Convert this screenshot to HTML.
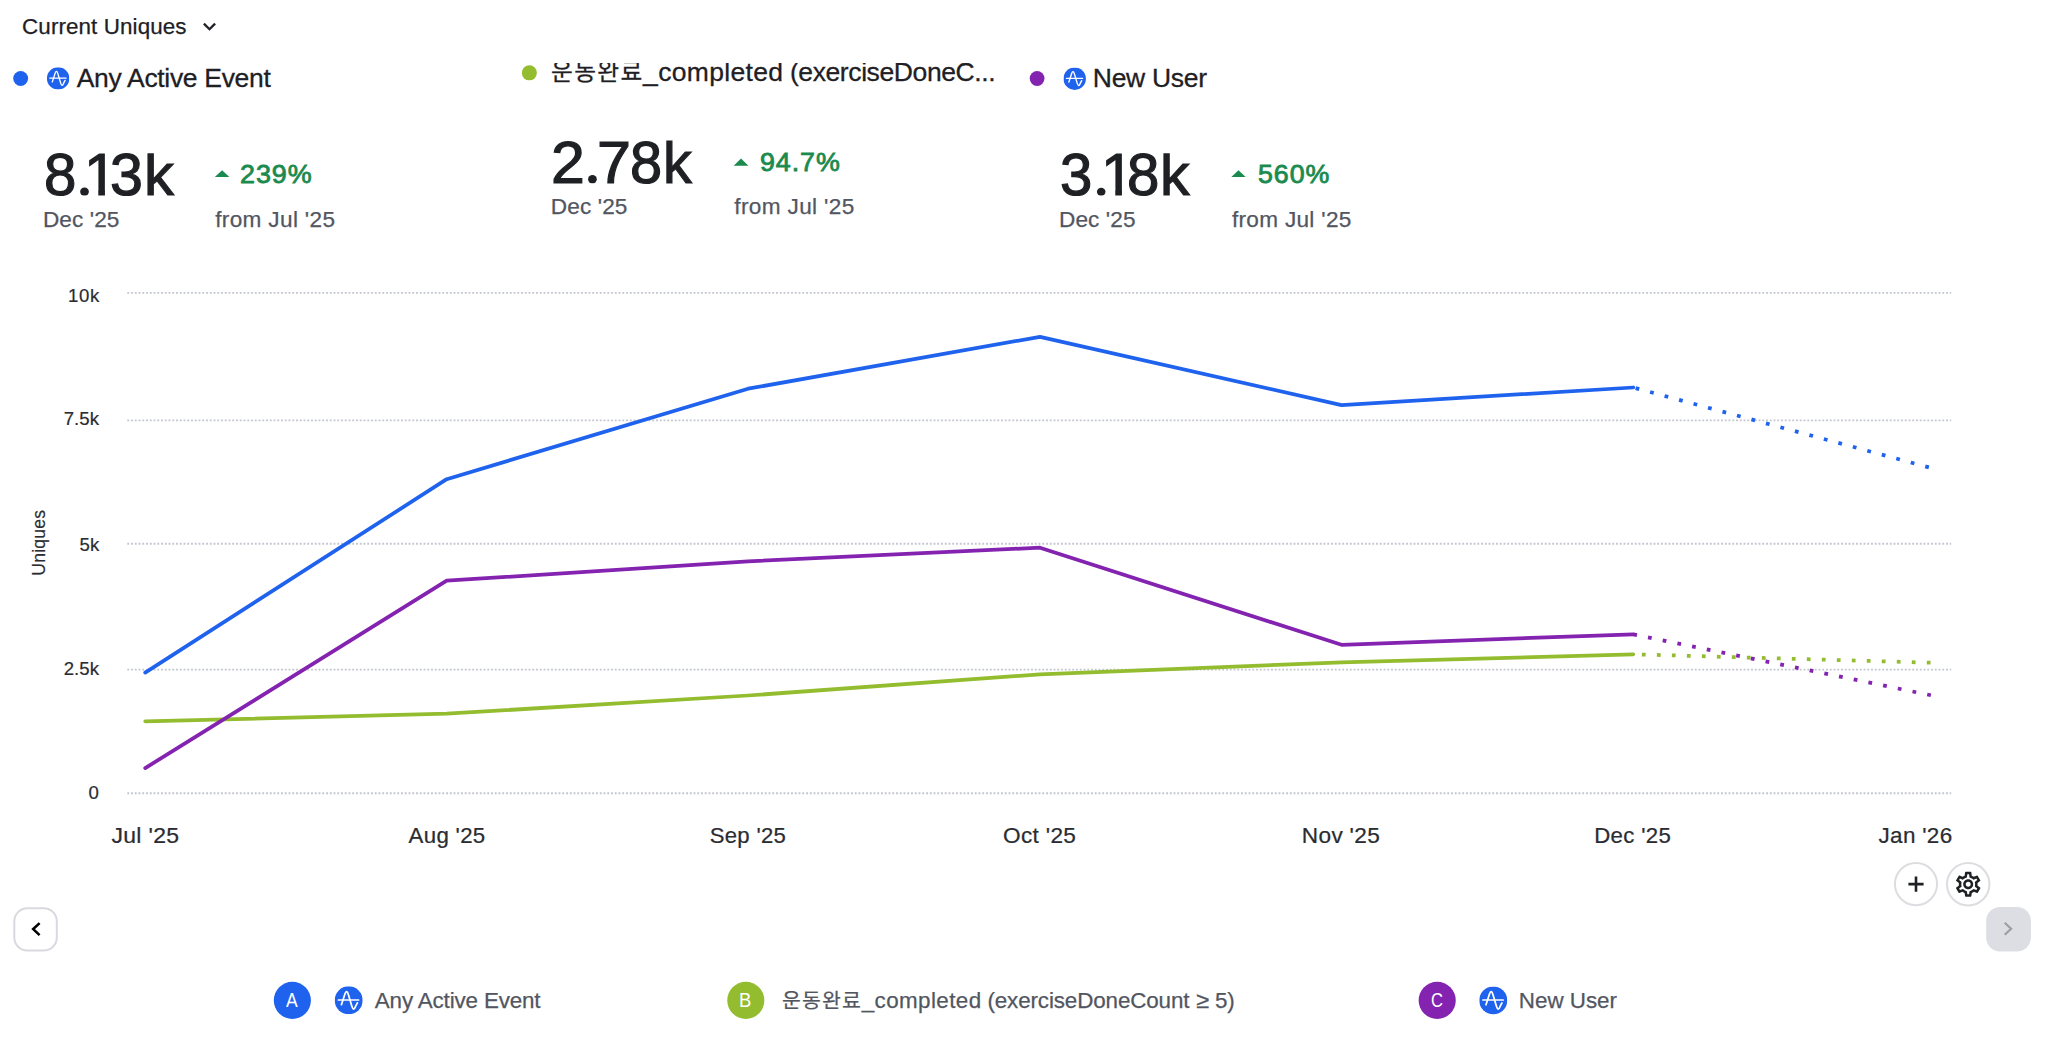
<!DOCTYPE html>
<html lang="ko"><head><meta charset="utf-8"><title>Current Uniques</title>
<style>
html,body{margin:0;padding:0;background:#fff;}
body{width:2048px;height:1051px;overflow:hidden;position:relative;font-family:"Liberation Sans", "Noto Sans CJK KR", sans-serif;}
.t{position:absolute;white-space:pre;font-weight:400;font-style:normal;}
.chart,.shapes{position:absolute;left:0;top:0;display:block;}
.clip{position:absolute;overflow:hidden;}
</style></head><body>
<svg class="chart" width="2048" height="1051" viewBox="0 0 2048 1051" font-family='"Liberation Sans", "Noto Sans CJK KR", sans-serif'>
<g stroke="#c2c6cf" stroke-width="1.875" stroke-dasharray="1.875 1.875"><line x1="127.3" y1="292.9" x2="1951.2" y2="292.9"/><line x1="127.3" y1="420.4" x2="1951.2" y2="420.4"/><line x1="127.3" y1="543.8" x2="1951.2" y2="543.8"/><line x1="127.3" y1="669.6" x2="1951.2" y2="669.6"/><line x1="127.3" y1="793.2" x2="1951.2" y2="793.2"/></g>
<g class="y-labels" fill="#2a2c31" stroke="#2a2c31" stroke-width="0.2"><text x="68.10" y="301.70" font-size="18.6" letter-spacing="0.550">10k</text><text x="63.65" y="425.30" font-size="18.6" letter-spacing="0.100">7.5k</text><text x="79.50" y="550.50" font-size="18.6" letter-spacing="0.200">5k</text><text x="63.65" y="675.00" font-size="18.6" letter-spacing="0.100">2.5k</text><text x="88.45" y="799.40" font-size="18.6">0</text></g>
<g class="x-labels" fill="#2a2c31" stroke="#2a2c31" stroke-width="0.22"><text transform="translate(111.43 842.70) scale(1.0788 1)" font-size="21.3" letter-spacing="0.300">Jul '25</text><text transform="translate(408.60 842.70) scale(1.0448 1)" font-size="21.3" letter-spacing="0.300">Aug '25</text><text transform="translate(709.66 842.70) scale(1.0384 1)" font-size="21.3" letter-spacing="0.300">Sep '25</text><text transform="translate(1003.04 842.70) scale(1.0614 1)" font-size="21.3" letter-spacing="0.300">Oct '25</text><text transform="translate(1301.84 842.70) scale(1.0621 1)" font-size="21.3" letter-spacing="0.300">Nov '25</text><text transform="translate(1594.28 842.70) scale(1.0424 1)" font-size="21.3" letter-spacing="0.300">Dec '25</text><text transform="translate(1878.54 842.70) scale(1.0547 1)" font-size="21.3" letter-spacing="0.300">Jan '26</text></g>
<text transform="translate(45.2 542.7) rotate(-90)" text-anchor="middle" font-size="17.6" letter-spacing="0.2" fill="#2a2c31" stroke="#2a2c31" stroke-width="0.18">Uniques</text>
<polyline points="145.2,721.3 446.7,713.7 748.1,695.5 1040.0,674.4 1341.5,662.4 1633.3,654.3" fill="none" stroke="#93bc2f" stroke-width="3.75" stroke-linejoin="round" stroke-linecap="round"/><line x1="1633.3" y1="654.3" x2="1934.6" y2="662.8" stroke="#93bc2f" stroke-width="3.75" stroke-dasharray="3.75 11.25" stroke-dashoffset="-8.6"/>
<polyline points="145.2,768.1 446.7,580.7 748.1,561.3 1040.0,547.7 1341.5,644.8 1633.3,634.3" fill="none" stroke="#8323b0" stroke-width="3.75" stroke-linejoin="round" stroke-linecap="round"/><line x1="1633.3" y1="634.3" x2="1934.6" y2="696.0" stroke="#8323b0" stroke-width="3.75" stroke-dasharray="3.75 11.25" stroke-dashoffset="0"/>
<polyline points="145.2,672.6 446.7,479.2 748.1,388.7 1040.0,336.8 1341.5,405.1 1633.3,387.5" fill="none" stroke="#1f62ee" stroke-width="3.75" stroke-linejoin="round" stroke-linecap="round"/><line x1="1633.3" y1="387.5" x2="1934.6" y2="468.9" stroke="#1f62ee" stroke-width="3.75" stroke-dasharray="3.75 11.25" stroke-dashoffset="-2.4"/>
</svg>
<svg class="shapes" width="2048" height="1051" viewBox="0 0 2048 1051">
<defs><symbol id="amp" viewBox="-1 -1 2 2"><circle r="1" fill="#1f62ee"/><g fill="none" stroke="#fff" stroke-linecap="round" stroke-linejoin="round"><path d="M-0.74 -0.027H0.71" stroke-width="0.12"/><path d="M-0.52 0.31L-0.27 -0.45Q-0.14 -0.82 -0.02 -0.40L0.22 0.40Q0.35 0.82 0.48 0.45L0.62 0.18" stroke-width="0.125"/></g></symbol></defs>
<g class="hdr-caret"><path d="M203.9 23.6L209.5 29.2L215.1 23.6" fill="none" stroke="#1e2024" stroke-width="2.3"/></g>
<g class="card-marks">
<circle cx="20.65" cy="78.5" r="7.45" fill="#1f62ee"/><use href="#amp" x="46.93" y="67.20" width="22.4" height="22.4"/><path d="M214.8 177L222.10 170.2L229.4 177Z" fill="#1b8a4e"/>
<circle cx="529.35" cy="72.85" r="7.5" fill="#93bc2f"/><path d="M733.7 165.8L741.05 158.5L748.4 165.8Z" fill="#1b8a4e"/>
<circle cx="1037.1" cy="78.5" r="7.4" fill="#8323b0"/><use href="#amp" x="1063.45" y="67.38" width="22.5" height="22.5"/><path d="M1231.3 177L1238.50 170.2L1245.7 177Z" fill="#1b8a4e"/>
</g>
<g class="tools">
<circle cx="1916" cy="884.1" r="21.1" fill="#fff" stroke="#dcdde1" stroke-width="2"/>
<path d="M1916 876.5V891.7M1908.4 884.1H1923.6" stroke="#1e2024" stroke-width="2.6" fill="none"/>
<circle cx="1968.2" cy="884.2" r="21.2" fill="#fff" stroke="#dcdde1" stroke-width="2"/>
<path transform="translate(1953.20 869.30) scale(1.25)" fill="#1e2024" fill-rule="evenodd" d="M19.43 12.98c.04-.32.07-.64.07-.98s-.03-.66-.07-.98l2.11-1.65c.19-.15.24-.42.12-.64l-2-3.46c-.12-.22-.39-.3-.61-.22l-2.49 1c-.52-.4-1.08-.73-1.69-.98l-.38-2.65C14.46 2.18 14.25 2 14 2h-4c-.25 0-.46.18-.49.42l-.38 2.65c-.61.25-1.17.59-1.69.98l-2.49-1c-.23-.09-.49 0-.61.22l-2 3.46c-.13.22-.07.49.12.64l2.11 1.65c-.04.32-.07.65-.07.98s.03.66.07.98l-2.11 1.65c-.19.15-.24.42-.12.64l2 3.46c.12.22.39.3.61.22l2.49-1c.52.4 1.08.73 1.69.98l.38 2.65c.03.24.24.42.49.42h4c.25 0 .46-.18.49-.42l.38-2.65c.61-.25 1.17-.59 1.69-.98l2.49 1c.23.09.49 0 .61-.22l2-3.46c.12-.22.07-.49-.12-.64l-2.11-1.65zm-1.98-1.71c.04.31.05.52.05.73 0 .21-.02.43-.05.73l-.14 1.13.89.7 1.08.84-.7 1.21-1.27-.51-1.04-.42-.9.68c-.43.32-.84.56-1.25.73l-1.06.43-.16 1.13-.2 1.35h-1.4l-.19-1.35-.16-1.13-1.06-.43c-.43-.18-.83-.41-1.23-.71l-.91-.7-1.06.43-1.27.51-.7-1.21 1.08-.84.89-.7-.14-1.13c-.03-.31-.05-.54-.05-.74s.02-.43.05-.73l.14-1.13-.89-.7-1.08-.84.7-1.21 1.27.51 1.04.42.9-.68c.43-.32.84-.56 1.25-.73l1.06-.43.16-1.13.2-1.35h1.39l.19 1.35.16 1.13 1.06.43c.43.18.83.41 1.23.71l.91.7 1.06-.43 1.27-.51.7 1.21-1.07.85-.89.7.14 1.13zM12 8c-2.21 0-4 1.79-4 4s1.79 4 4 4 4-1.790 4-4-1.790-4-4-4zm0 6c-1.100 0-2-.9-2-2s.9-2 2-2 2 .9 2 2-.9 2-2 2z"/>
</g>
<g class="pager">
<rect x="14.3" y="908.3" width="42.5" height="42.2" rx="13" fill="#fff" stroke="#d9dae0" stroke-width="2"/>
<path d="M39.6 923.1L33.2 929.1L39.6 935.1" fill="none" stroke="#000" stroke-width="2.6"/>
<rect x="1986.2" y="907" width="44.7" height="44.6" rx="14" fill="#dddee3"/>
<path d="M2004.7 922.7L2011.1 928.7L2004.7 934.7" fill="none" stroke="#9c9ea8" stroke-width="2.2"/>
</g>
<g class="legend-marks">
<circle cx="292.35" cy="1000.35" r="18.55" fill="#1f62ee"/><use href="#amp" x="334.70" y="986.36" width="28.0" height="28.0"/>
<circle cx="745.8" cy="1000.35" r="18.55" fill="#93bc2f"/>
<circle cx="1437.2" cy="1000.4" r="18.55" fill="#8323b0"/><use href="#amp" x="1479.27" y="986.40" width="28.0" height="28.0"/>
</g>
</svg>
<header class="hdr"><span class="t" style="left:22.10px;top:16.40px;font-size:22.4px;line-height:22.4px;color:#1e2024;letter-spacing:0.096px;-webkit-text-stroke:0.25px #1e2024;">Current Uniques</span></header>
<section class="card"><span class="t" style="left:76.75px;top:65.01px;font-size:26.5px;line-height:26.5px;color:#1e2024;letter-spacing:-0.320px;-webkit-text-stroke:0.29px #1e2024;">Any Active Event</span><b class="num"><span class="t" style="left:43.65px;top:145.11px;font-size:60px;line-height:60px;color:#1e2024;-webkit-text-stroke:1.2px #1e2024;transform:scaleX(0.9711);transform-origin:0 0;">8</span><span class="t" style="left:71.81px;top:116.49px;font-size:93.8181818181818px;line-height:93.8181818181818px;color:#1e2024;-webkit-text-stroke:1.2px #1e2024;transform:scaleX(0.9608);transform-origin:0 0;clip-path:ellipse(4.58px 4.22px at 13.00px 75.29px);">.</span><span class="t" style="left:84.00px;top:145.11px;font-size:60px;line-height:60px;color:#1e2024;-webkit-text-stroke:1.2px #1e2024;transform:scaleX(0.9931);transform-origin:0 0;clip-path:polygon(0 -10px,100% -10px,100% 44.28px,21.10px 44.28px,21.10px 120%,14.38px 120%,14.38px 44.28px,0 44.28px);">1</span><span class="t" style="left:109.77px;top:145.11px;font-size:60px;line-height:60px;color:#1e2024;-webkit-text-stroke:1.2px #1e2024;transform:scaleX(0.9865);transform-origin:0 0;">3</span><span class="t" style="left:143.61px;top:145.11px;font-size:60px;line-height:60px;color:#1e2024;-webkit-text-stroke:1.2px #1e2024;transform:scaleX(0.9963);transform-origin:0 0;clip-path:inset(8.09px -5px -5px -5px);">k</span></b><span class="t" style="left:42.88px;top:208.51px;font-size:22.6px;line-height:22.6px;color:#525661;letter-spacing:0.103px;-webkit-text-stroke:0.25px #525661;">Dec '25</span><span class="t" style="left:240.40px;top:162.00px;font-size:25.8px;line-height:25.8px;color:#1b8a4e;letter-spacing:0.900px;-webkit-text-stroke:0.8px #1b8a4e;transform:scaleX(1.0429);transform-origin:0 0;">239%</span><span class="t" style="left:215.15px;top:208.51px;font-size:22.6px;line-height:22.6px;color:#525661;letter-spacing:0.345px;-webkit-text-stroke:0.25px #525661;">from Jul '25</span></section>
<section class="card"><div class="clip" style="left:540px;top:63.4px;width:470px;height:40px"><div style="position:absolute;left:-540px;top:-63.4px"><span class="t" style="left:551.05px;top:60.71px;font-size:23.7px;line-height:23.7px;color:#1e2024;letter-spacing:1.350px;-webkit-text-stroke:0.26px #1e2024;">운동완료</span><span class="t" style="left:643.10px;top:59.01px;font-size:26.5px;line-height:26.5px;color:#1e2024;letter-spacing:0.317px;-webkit-text-stroke:0.29px #1e2024;">_completed </span><span class="t" style="left:789.90px;top:59.01px;font-size:26.5px;line-height:26.5px;color:#1e2024;letter-spacing:-0.397px;-webkit-text-stroke:0.29px #1e2024;">(exerciseDoneC...</span></div></div><b class="num"><span class="t" style="left:550.77px;top:132.51px;font-size:60px;line-height:60px;color:#1e2024;-webkit-text-stroke:1.2px #1e2024;transform:scaleX(1.0139);transform-origin:0 0;">2</span><span class="t" style="left:579.70px;top:104.89px;font-size:93.27272727272727px;line-height:93.27272727272727px;color:#1e2024;-webkit-text-stroke:1.2px #1e2024;transform:scaleX(0.9559);transform-origin:0 0;clip-path:ellipse(4.58px 4.20px at 13.00px 74.31px);">.</span><span class="t" style="left:597.16px;top:132.51px;font-size:60px;line-height:60px;color:#1e2024;-webkit-text-stroke:1.2px #1e2024;transform:scaleX(1.0174);transform-origin:0 0;">7</span><span class="t" style="left:630.07px;top:132.51px;font-size:60px;line-height:60px;color:#1e2024;-webkit-text-stroke:1.2px #1e2024;transform:scaleX(0.9626);transform-origin:0 0;">8</span><span class="t" style="left:663.04px;top:132.51px;font-size:60px;line-height:60px;color:#1e2024;-webkit-text-stroke:1.2px #1e2024;transform:scaleX(0.9596);transform-origin:0 0;clip-path:inset(8.09px -5px -5px -5px);">k</span></b><span class="t" style="left:550.85px;top:195.90px;font-size:22.6px;line-height:22.6px;color:#525661;letter-spacing:0.108px;-webkit-text-stroke:0.25px #525661;">Dec '25</span><span class="t" style="left:759.80px;top:149.91px;font-size:25.8px;line-height:25.8px;color:#1b8a4e;letter-spacing:0.900px;-webkit-text-stroke:0.8px #1b8a4e;transform:scaleX(1.0389);transform-origin:0 0;">94.7%</span><span class="t" style="left:734.35px;top:195.90px;font-size:22.6px;line-height:22.6px;color:#525661;letter-spacing:0.345px;-webkit-text-stroke:0.25px #525661;">from Jul '25</span></section>
<section class="card"><span class="t" style="left:1092.85px;top:64.81px;font-size:26.5px;line-height:26.5px;color:#1e2024;letter-spacing:-0.307px;-webkit-text-stroke:0.29px #1e2024;">New User</span><b class="num"><span class="t" style="left:1059.75px;top:145.11px;font-size:60px;line-height:60px;color:#1e2024;-webkit-text-stroke:1.2px #1e2024;transform:scaleX(0.9680);transform-origin:0 0;">3</span><span class="t" style="left:1088.62px;top:118.48px;font-size:91.63636363636266px;line-height:91.63636363636266px;color:#1e2024;-webkit-text-stroke:1.2px #1e2024;transform:scaleX(0.9648);transform-origin:0 0;clip-path:ellipse(4.46px 4.13px at 12.63px 73.39px);">.</span><span class="t" style="left:1100.60px;top:145.11px;font-size:60px;line-height:60px;color:#1e2024;-webkit-text-stroke:1.2px #1e2024;transform:scaleX(0.9931);transform-origin:0 0;clip-path:polygon(0 -10px,100% -10px,100% 44.28px,21.10px 44.28px,21.10px 120%,14.38px 120%,14.38px 44.28px,0 44.28px);">1</span><span class="t" style="left:1126.85px;top:145.11px;font-size:60px;line-height:60px;color:#1e2024;-webkit-text-stroke:1.2px #1e2024;transform:scaleX(0.9711);transform-origin:0 0;">8</span><span class="t" style="left:1160.15px;top:145.11px;font-size:60px;line-height:60px;color:#1e2024;-webkit-text-stroke:1.2px #1e2024;transform:scaleX(0.9853);transform-origin:0 0;clip-path:inset(8.09px -5px -5px -5px);">k</span></b><span class="t" style="left:1059.05px;top:208.51px;font-size:22.6px;line-height:22.6px;color:#525661;letter-spacing:0.092px;-webkit-text-stroke:0.25px #525661;">Dec '25</span><span class="t" style="left:1257.56px;top:162.00px;font-size:25.8px;line-height:25.8px;color:#1b8a4e;letter-spacing:0.900px;-webkit-text-stroke:0.8px #1b8a4e;transform:scaleX(1.0375);transform-origin:0 0;">560%</span><span class="t" style="left:1231.95px;top:208.51px;font-size:22.6px;line-height:22.6px;color:#525661;letter-spacing:0.300px;-webkit-text-stroke:0.25px #525661;">from Jul '25</span></section>
<footer class="legend">
<div class="item"><span class="t" style="left:286.26px;top:990.99px;font-size:19.9px;line-height:19.9px;color:#fff;transform:scaleX(0.8785);transform-origin:0 0;">A</span><span class="t" style="left:374.80px;top:989.81px;font-size:22.4px;line-height:22.4px;color:#525661;letter-spacing:-0.150px;-webkit-text-stroke:0.25px #525661;">Any Active Event</span></div>
<div class="item"><span class="t" style="left:739.30px;top:990.91px;font-size:19.9px;line-height:19.9px;color:#fff;transform:scaleX(0.9302);transform-origin:0 0;">B</span><span class="lbl"><span class="t" style="left:782.10px;top:990.81px;font-size:20.5px;line-height:20.5px;color:#525661;letter-spacing:1.133px;-webkit-text-stroke:0.23px #525661;">운동완료</span><span class="t" style="left:861.65px;top:989.81px;font-size:22.4px;line-height:22.4px;color:#525661;letter-spacing:0.422px;-webkit-text-stroke:0.25px #525661;">_completed </span><span class="t" style="left:987.45px;top:989.81px;font-size:22.4px;line-height:22.4px;color:#525661;letter-spacing:-0.121px;-webkit-text-stroke:0.25px #525661;">(exerciseDoneCount </span><span class="t" style="left:1196.21px;top:989.81px;font-size:22.4px;line-height:22.4px;color:#525661;-webkit-text-stroke:0.25px #525661;transform:scaleX(1.0545);transform-origin:0 0;">≥ </span><span class="t" style="left:1215.10px;top:989.81px;font-size:22.4px;line-height:22.4px;color:#525661;letter-spacing:-0.400px;-webkit-text-stroke:0.25px #525661;">5)</span></span></div>
<div class="item"><span class="t" style="left:1431.24px;top:991.21px;font-size:19.9px;line-height:19.9px;color:#fff;transform:scaleX(0.8344);transform-origin:0 0;">C</span><span class="t" style="left:1518.85px;top:989.81px;font-size:22.4px;line-height:22.4px;color:#525661;letter-spacing:-0.021px;-webkit-text-stroke:0.25px #525661;">New User</span></div>
</footer>
</body></html>
